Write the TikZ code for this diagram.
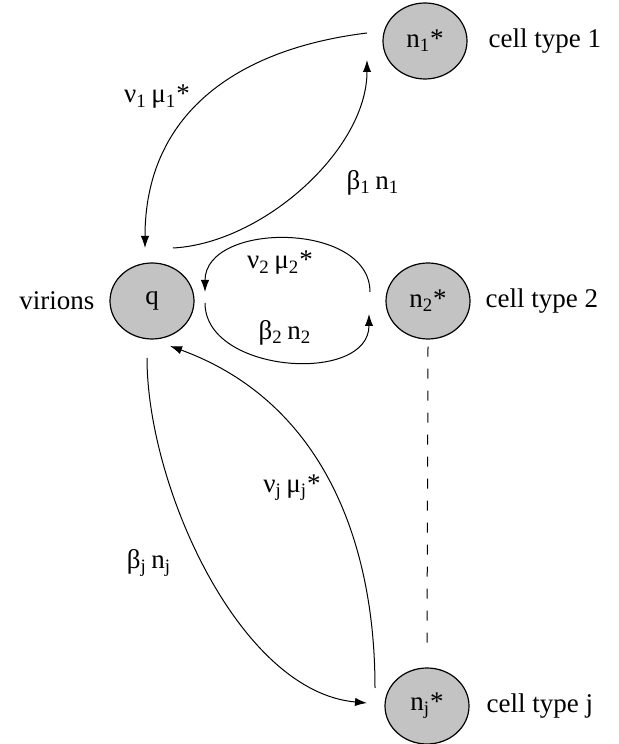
\documentclass[tikz,border=0pt]{standalone}
\usepackage{fontspec}
\setmainfont{Liberation Serif}
\usetikzlibrary{shapes.geometric, arrows.meta, positioning}
\definecolor{cellgray}{RGB}{195,195,195}
\tikzset{
  pool/.style={ellipse, draw, line width=0.6pt, fill=cellgray,
    minimum width=42pt, minimum height=38pt, inner sep=0pt},
  flow/.style={line width=0.5pt, -{Latex[length=6pt,width=4.2pt]}},
  rate/.style={inner sep=1pt}
}

\begin{document}
\begin{tikzpicture}[x=0.5pt, y=0.5pt, font=\fontsize{13.5}{16}\selectfont]
  \useasboundingbox (0,0) rectangle (619,744);

  % compartments
  \node[pool] (q)  at (152,443) {q};
  \node[pool] (n1) at (425,703) {n\textsubscript{1}*};
  \node[pool] (n2) at (428,443) {n\textsubscript{2}*};
  \node[pool] (nj) at (427,38)  {n\textsubscript{j}*};

  % side labels
  \node[left=4pt of q]   (vir) {virions};
  \node[right=7pt of n1] (ct1) {cell type 1};
  \node[right=4pt of n2] (ct2) {cell type 2};
  \node[right=5pt of nj] (ctj) {cell type j};

  % cell type 1
  \draw[flow] ([shift={(-58,8)}]n1.center) to[out=187,in=90,looseness=1.1]
    ([shift={(-7,53)}]q.center);
  \draw[flow] ([shift={(21,53)}]q.center) to[out=3,in=270,looseness=0.85]
    ([shift={(-58,-19)}]n1.center);
  \node[rate] (r1a) at (157,647) {ν\textsubscript{1}\,μ\textsubscript{1}*};
  \node[rate] (r1b) at (373,561) {β\textsubscript{1}\,n\textsubscript{1}};

  % cell type 2
  \draw[flow] ([shift={(-58,9)}]n2.center) to[out=90,in=90,looseness=1.1]
    ([shift={(53,9)}]q.center);
  \draw[flow] ([shift={(53,-2)}]q.center) to[out=270,in=270,looseness=1.1]
    ([shift={(-59,-13)}]n2.center);
  \node[rate] (r2a) at (280,481) {ν\textsubscript{2}\,μ\textsubscript{2}*};
  \node[rate] (r2b) at (285,411) {β\textsubscript{2}\,n\textsubscript{2}};

  % cell type j
  \draw[flow] ([shift={(-52,18)}]nj.center) to[out=90,in=-20]
    ([shift={(18,-45)}]q.center);
  \draw[flow] ([shift={(-5,-57)}]q.center) to[out=270,in=175,looseness=0.8]
    ([shift={(-60,3)}]nj.center);
  \node[rate] (rja) at (292,256) {ν\textsubscript{j}\,μ\textsubscript{j}*};
  \node[rate] (rjb) at (149,181) {β\textsubscript{j}\,n\textsubscript{j}};

  \draw[line width=0.5pt, dash pattern=on 5pt off 6pt]
    ([yshift=-3.5pt]n2.south) -- ([yshift=11pt]nj.north);
\end{tikzpicture}
\end{document}
